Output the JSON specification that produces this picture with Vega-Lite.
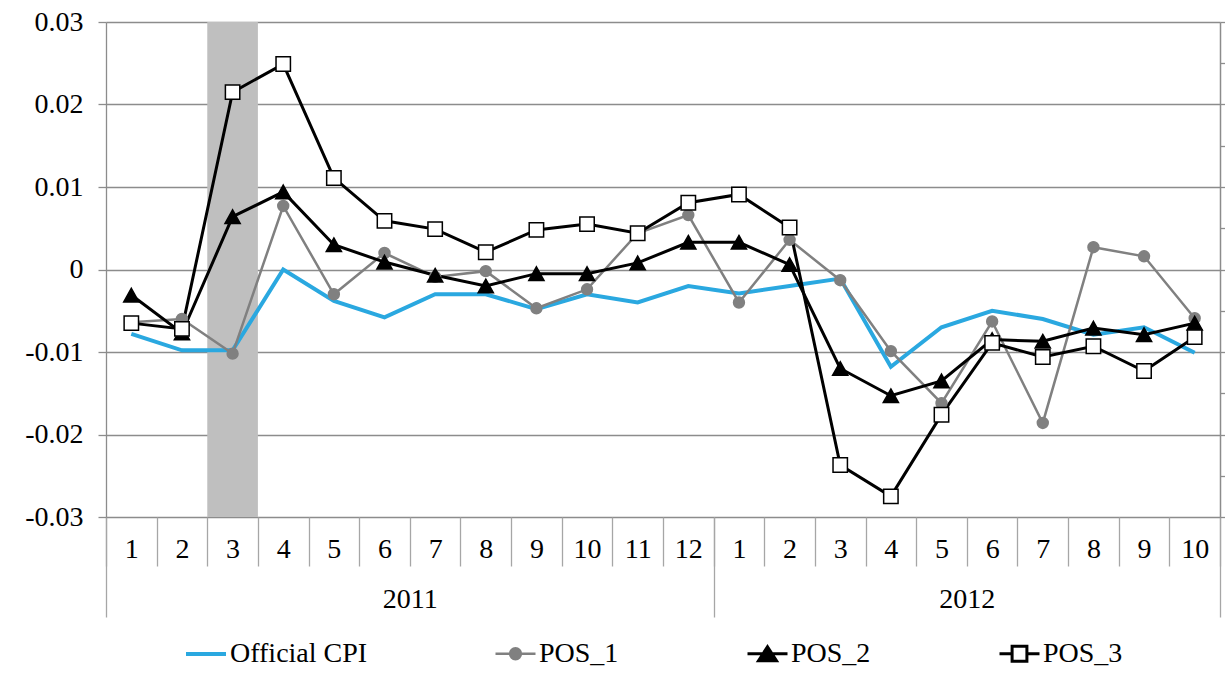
{
  "$schema": "https://vega.github.io/schema/vega-lite/v6.json",
  "width": 1114,
  "height": 495,
  "autosize": {"type": "none"},
  "padding": {"left": 106, "top": 22, "right": 5, "bottom": 165},
  "background": "white",
  "config": {"view": {"stroke": null}, "font": "Liberation Serif"},
  "data": {
    "values": [
      {"s": "Official CPI", "t": 1, "v": -0.0078}, {"s": "Official CPI", "t": 2, "v": -0.0098}, {"s": "Official CPI", "t": 3, "v": -0.0098}, {"s": "Official CPI", "t": 4, "v": 0.0000}, {"s": "Official CPI", "t": 5, "v": -0.0038}, {"s": "Official CPI", "t": 6, "v": -0.0058}, {"s": "Official CPI", "t": 7, "v": -0.0030}, {"s": "Official CPI", "t": 8, "v": -0.0030}, {"s": "Official CPI", "t": 9, "v": -0.0048}, {"s": "Official CPI", "t": 10, "v": -0.0030}, {"s": "Official CPI", "t": 11, "v": -0.0040}, {"s": "Official CPI", "t": 12, "v": -0.0020}, {"s": "Official CPI", "t": 13, "v": -0.0029}, {"s": "Official CPI", "t": 14, "v": -0.0020}, {"s": "Official CPI", "t": 15, "v": -0.0011}, {"s": "Official CPI", "t": 16, "v": -0.0118}, {"s": "Official CPI", "t": 17, "v": -0.0070}, {"s": "Official CPI", "t": 18, "v": -0.0050}, {"s": "Official CPI", "t": 19, "v": -0.0060}, {"s": "Official CPI", "t": 20, "v": -0.0079}, {"s": "Official CPI", "t": 21, "v": -0.0070}, {"s": "Official CPI", "t": 22, "v": -0.0101},
      {"s": "POS_1", "t": 1, "v": -0.0064}, {"s": "POS_1", "t": 2, "v": -0.0060}, {"s": "POS_1", "t": 3, "v": -0.0102}, {"s": "POS_1", "t": 4, "v": 0.0077}, {"s": "POS_1", "t": 5, "v": -0.0030}, {"s": "POS_1", "t": 6, "v": 0.0020}, {"s": "POS_1", "t": 7, "v": -0.0009}, {"s": "POS_1", "t": 8, "v": -0.0002}, {"s": "POS_1", "t": 9, "v": -0.0047}, {"s": "POS_1", "t": 10, "v": -0.0024}, {"s": "POS_1", "t": 11, "v": 0.0044}, {"s": "POS_1", "t": 12, "v": 0.0066}, {"s": "POS_1", "t": 13, "v": -0.0040}, {"s": "POS_1", "t": 14, "v": 0.0036}, {"s": "POS_1", "t": 15, "v": -0.0013}, {"s": "POS_1", "t": 16, "v": -0.0099}, {"s": "POS_1", "t": 17, "v": -0.0162}, {"s": "POS_1", "t": 18, "v": -0.0063}, {"s": "POS_1", "t": 19, "v": -0.0186}, {"s": "POS_1", "t": 20, "v": 0.0027}, {"s": "POS_1", "t": 21, "v": 0.0016}, {"s": "POS_1", "t": 22, "v": -0.0059},
      {"s": "POS_2", "t": 1, "v": -0.0031}, {"s": "POS_2", "t": 2, "v": -0.0077}, {"s": "POS_2", "t": 3, "v": 0.0064}, {"s": "POS_2", "t": 4, "v": 0.0094}, {"s": "POS_2", "t": 5, "v": 0.0030}, {"s": "POS_2", "t": 6, "v": 0.0009}, {"s": "POS_2", "t": 7, "v": -0.0007}, {"s": "POS_2", "t": 8, "v": -0.0020}, {"s": "POS_2", "t": 9, "v": -0.0005}, {"s": "POS_2", "t": 10, "v": -0.0005}, {"s": "POS_2", "t": 11, "v": 0.0008}, {"s": "POS_2", "t": 12, "v": 0.0033}, {"s": "POS_2", "t": 13, "v": 0.0033}, {"s": "POS_2", "t": 14, "v": 0.0006}, {"s": "POS_2", "t": 15, "v": -0.0120}, {"s": "POS_2", "t": 16, "v": -0.0153}, {"s": "POS_2", "t": 17, "v": -0.0135}, {"s": "POS_2", "t": 18, "v": -0.0085}, {"s": "POS_2", "t": 19, "v": -0.0087}, {"s": "POS_2", "t": 20, "v": -0.0071}, {"s": "POS_2", "t": 21, "v": -0.0079}, {"s": "POS_2", "t": 22, "v": -0.0065},
      {"s": "POS_3", "t": 1, "v": -0.0065}, {"s": "POS_3", "t": 2, "v": -0.0072}, {"s": "POS_3", "t": 3, "v": 0.0215}, {"s": "POS_3", "t": 4, "v": 0.0249}, {"s": "POS_3", "t": 5, "v": 0.0111}, {"s": "POS_3", "t": 6, "v": 0.0059}, {"s": "POS_3", "t": 7, "v": 0.0049}, {"s": "POS_3", "t": 8, "v": 0.0021}, {"s": "POS_3", "t": 9, "v": 0.0048}, {"s": "POS_3", "t": 10, "v": 0.0055}, {"s": "POS_3", "t": 11, "v": 0.0044}, {"s": "POS_3", "t": 12, "v": 0.0081}, {"s": "POS_3", "t": 13, "v": 0.0091}, {"s": "POS_3", "t": 14, "v": 0.0051}, {"s": "POS_3", "t": 15, "v": -0.0237}, {"s": "POS_3", "t": 16, "v": -0.0275}, {"s": "POS_3", "t": 17, "v": -0.0176}, {"s": "POS_3", "t": 18, "v": -0.0089}, {"s": "POS_3", "t": 19, "v": -0.0106}, {"s": "POS_3", "t": 20, "v": -0.0093}, {"s": "POS_3", "t": 21, "v": -0.0123}, {"s": "POS_3", "t": 22, "v": -0.0082}
    ]
  },
  "resolve": {"scale": {"x": "independent", "y": "independent"}},
  "layer": [
    {
      "data": {"values": [{"start": 2.5, "end": 3.5}]},
      "mark": {"type": "rect", "color": "#bfbfbf"},
      "encoding": {
        "x": {"field": "start", "type": "quantitative", "scale": {"domain": [0.5, 22.5], "nice": false, "zero": false},
          "axis": {"orient": "bottom", "title": null, "values": [0.5,1.5,2.5,3.5,4.5,5.5,6.5,7.5,8.5,9.5,10.5,11.5,12.5,13.5,14.5,15.5,16.5,17.5,18.5,19.5,20.5,21.5,22.5], "labels": false, "domain": false, "grid": false, "ticks": true, "tickSize": 49, "tickColor": "#a6a6a6", "tickWidth": 1.3}},
        "x2": {"field": "end"},
        "y": {"datum": -0.03, "type": "quantitative", "scale": {"domain": [-0.03, 0.03], "nice": false, "zero": false},
          "axis": {"orient": "left", "title": null, "values": [-0.03,-0.02,-0.01,0,0.01,0.02,0.03], "labelExpr": "datum.value == 0 ? '0' : (datum.value < 0 ? '-' : '') + format(abs(datum.value), '.2f')", "labelFont": "Liberation Serif", "labelFontSize": 28, "labelColor": "black", "labelOverlap": false, "labelFlush": false, "labelBound": false, "grid": true, "gridColor": "#8c8c8c", "gridWidth": 1.3, "domain": true, "domainColor": "#8c8c8c", "domainWidth": 1.3, "ticks": true, "tickColor": "#8c8c8c", "tickSize": 8, "tickWidth": 1.3, "labelPadding": 15}},
        "y2": {"datum": 0.03}
      }
    },
    {
      "mark": {"type": "line"},
      "encoding": {
        "x": {"field": "t", "type": "quantitative", "scale": {"domain": [0.5, 22.5], "nice": false, "zero": false},
          "axis": {"orient": "bottom", "title": null, "values": [1,2,3,4,5,6,7,8,9,10,11,12,13,14,15,16,17,18,19,20,21,22], "labelExpr": "'' + (datum.value > 12 ? datum.value - 12 : datum.value)", "labelFont": "Liberation Serif", "labelFontSize": 28, "labelColor": "black", "labelOverlap": false, "labelFlush": false, "labelBound": false, "ticks": false, "domain": false, "grid": false, "labelPadding": 18}},
        "y": {"field": "v", "type": "quantitative", "scale": {"domain": [-0.03, 0.03], "nice": false, "zero": false}, "axis": null},
        "color": {"field": "s", "type": "nominal", "scale": {"range": ["#2aa8e0", "#808080", "#000000", "#000000"]},
          "legend": {"orient": "none", "legendX": 78, "legendY": 610, "direction": "horizontal", "title": null, "labelFont": "Liberation Serif", "labelFontSize": 28, "labelColor": "black", "symbolSize": 1600, "labelOffset": 2, "columnPadding": 122, "symbolOffset": 0, "padding": 0, "labelLimit": 400,
            "encode": {"symbols": {"update": {
              "shape": {"signal": "datum.value === 'Official CPI' ? 'M-1,0H1' : datum.value === 'POS_1' ? 'M-1,0H1M-0.27,0A0.27,0.27 0 1,0 0.27,0A0.27,0.27 0 1,0 -0.27,0Z' : datum.value === 'POS_2' ? 'M-1,0H1M0,-0.35L0.45,0.35L-0.45,0.35Z' : 'M-1,0H-0.37M0.37,0H1M-0.37,-0.37H0.37V0.37H-0.37Z'"},
              "fill": {"signal": "datum.value === 'Official CPI' ? 'transparent' : datum.value === 'POS_1' ? '#808080' : datum.value === 'POS_2' ? '#000000' : '#ffffff'"},
              "strokeWidth": {"signal": "datum.value === 'Official CPI' ? 3.5 : 2.5"},
              "opacity": {"value": 1}
            }}}}},
        "strokeWidth": {"field": "s", "type": "nominal", "scale": {"type": "ordinal", "range": [4, 2.5, 3, 3]}, "legend": null}
      }
    },
    {
      "mark": {"type": "point", "filled": true, "size": 256, "strokeWidth": 1.5, "opacity": 1},
      "encoding": {
        "x": {"field": "t", "type": "quantitative", "scale": {"domain": [0.5, 22.5], "nice": false, "zero": false},
          "axis": {"orient": "bottom", "title": null, "values": [6.5, 17.5], "labelExpr": "datum.value < 12 ? '2011' : '2012'", "labelFont": "Liberation Serif", "labelFontSize": 28, "labelColor": "black", "labelOverlap": false, "labelFlush": false, "labelBound": false, "ticks": false, "domain": false, "grid": false, "labelPadding": 68}},
        "y": {"field": "v", "type": "quantitative", "scale": {"domain": [-0.03, 0.03], "nice": false, "zero": false}, "axis": null},
        "shape": {"field": "s", "type": "nominal",
          "scale": {"range": ["M0,0", "M-0.68,0A0.68,0.68 0 1,0 0.68,0A0.68,0.68 0 1,0 -0.68,0Z", "M0,-0.85L0.95,0.85L-0.95,0.85Z", "M-0.9,-0.9H0.9V0.9H-0.9Z"]},
          "legend": null},
        "fill": {"field": "s", "type": "nominal", "scale": {"range": ["transparent", "#808080", "#000000", "#ffffff"]}, "legend": null},
        "stroke": {"field": "s", "type": "nominal", "scale": {"range": ["#2aa8e0", "#808080", "#000000", "#000000"]}, "legend": null}
      }
    },
    {
      "data": {"values": [{"start": 2.5, "end": 3.5}]},
      "mark": {"type": "rule", "opacity": 0},
      "encoding": {
        "x": {"field": "start", "type": "quantitative", "scale": {"domain": [0.5, 22.5], "nice": false, "zero": false},
          "axis": {"orient": "bottom", "title": null, "values": [0.5, 12.5, 22.5], "labels": false, "domain": false, "grid": false, "ticks": true, "tickSize": 100, "tickColor": "#a6a6a6", "tickWidth": 1.3}},
        "y": {"datum": -0.03, "type": "quantitative", "scale": {"domain": [-0.03, 0.03], "nice": false, "zero": false},
          "axis": {"orient": "right", "title": null, "values": [-0.03,-0.025,-0.02,-0.015,-0.01,-0.005,0,0.005,0.01,0.015,0.02,0.025,0.03], "labels": false, "grid": false, "domain": true, "domainColor": "#8c8c8c", "domainWidth": 1.5, "ticks": true, "tickColor": "#8c8c8c", "tickSize": 6, "tickWidth": 1.3}},
        "y2": {"datum": -0.029}
      }
    }
  ]
}
